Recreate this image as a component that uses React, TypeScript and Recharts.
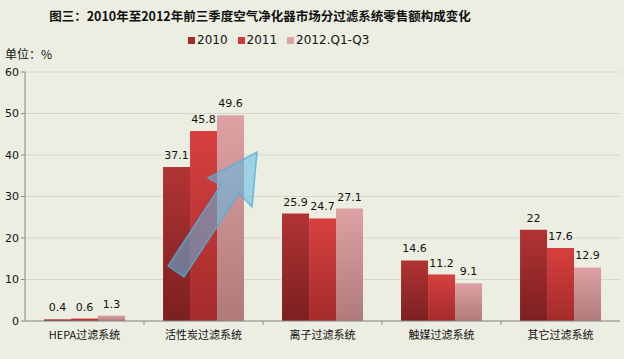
import React from 'react';
import { BarChart, Bar, XAxis, YAxis, CartesianGrid, LabelList } from 'recharts';

const categories = ['HEPA过滤系统', '活性炭过滤系统', '离子过滤系统', '触媒过滤系统', '其它过滤系统'];
const s2010 = [0.4, 37.1, 25.9, 14.6, 22];
const s2011 = [0.6, 45.8, 24.7, 11.2, 17.6];
const s2012 = [1.3, 49.6, 27.1, 9.1, 12.9];
const yTicks = [0, 10, 20, 30, 40, 50, 60];
const seriesNames = ['2010', '2011', '2012.Q1-Q3'];
const legendColors = ['#A52A2A', '#CC3B3B', '#D9A3A3'];

const data = categories.map((c, i) => ({ name: c, a: s2010[i], b: s2011[i], c: s2012[i] }));

const FONT = '"DejaVu Sans", "Noto Sans CJK SC", sans-serif';
const CJK = '"Noto Sans CJK SC", "DejaVu Sans", sans-serif';

const XTick = (props: any) => {
  const { x, y, payload, index } = props;
  const half = 119 / 2;
  return (
    <g>
      {index > 0 && <line x1={x - half} x2={x - half} y1={y - 8} y2={y - 4} stroke="#888" />}
      <text x={x} y={y + 10} textAnchor="middle" fontSize={11} fill="#111" fontFamily={CJK}>
        {payload.value}
      </text>
    </g>
  );
};

export default function App() {
  return (
    <div style={{ position: 'absolute', left: 0, top: 0, width: 624, height: 359, background: '#ECEEE1', overflow: 'hidden' }}>
      <div style={{ position: 'absolute', left: 0, width: 520, top: 6, textAlign: 'center', fontFamily: CJK, fontWeight: 'bold', fontSize: 12.5, color: '#111' }}>
        图三：2010年至2012年前三季度空气净化器市场分过滤系统零售额构成变化
      </div>
      <div style={{ position: 'absolute', left: 188, top: 33, display: 'flex', gap: 10, fontFamily: FONT, fontSize: 12, color: '#111', alignItems: 'center' }}>
        {seriesNames.map((n, i) => (
          <span key={n} style={{ display: 'flex', alignItems: 'center' }}>
            <span style={{ display: 'inline-block', width: 7, height: 7, background: legendColors[i], marginRight: 2 }} />
            {n}
          </span>
        ))}
      </div>
      <div style={{ position: 'absolute', left: 5, top: 45, fontFamily: CJK, fontSize: 12, color: '#111' }}>单位：%</div>
      <BarChart
        width={624}
        height={359}
        data={data}
        margin={{ top: 72, right: 4, bottom: 8, left: 0 }}
        barCategoryGap="16%"
        barGap={0}
      >
        <defs>
          <linearGradient id="g2010" x1="0" y1="0" x2="0" y2="1">
            <stop offset="0%" stopColor="#B23434" />
            <stop offset="100%" stopColor="#7C1F20" />
          </linearGradient>
          <linearGradient id="g2011" x1="0" y1="0" x2="0" y2="1">
            <stop offset="0%" stopColor="#D6403F" />
            <stop offset="100%" stopColor="#A42B2B" />
          </linearGradient>
          <linearGradient id="g2012" x1="0" y1="0" x2="0" y2="1">
            <stop offset="0%" stopColor="#DDA2A3" />
            <stop offset="100%" stopColor="#B07A7B" />
          </linearGradient>
        </defs>
        <CartesianGrid vertical={false} stroke="#D6D8CB" />
        <XAxis
          dataKey="name"
          height={30}
          axisLine={{ stroke: '#8A8A8A' }}
          tickLine={false}
          tick={<XTick />}
          interval={0}
        />
        <YAxis
          width={25}
          domain={[0, 60]}
          ticks={yTicks}
          axisLine={{ stroke: '#8A8A8A' }}
          tickLine={{ stroke: '#8A8A8A' }}
          tickSize={4}
          tick={{ fontSize: 11, fill: '#111', fontFamily: FONT }}
        />
        <Bar dataKey="a" name={seriesNames[0]} fill="url(#g2010)" isAnimationActive={false}>
          <LabelList dataKey="a" position="top" fontSize={11} fill="#111" fontFamily={FONT} offset={8} />
        </Bar>
        <Bar dataKey="b" name={seriesNames[1]} fill="url(#g2011)" isAnimationActive={false}>
          <LabelList dataKey="b" position="top" fontSize={11} fill="#111" fontFamily={FONT} offset={8} />
        </Bar>
        <Bar dataKey="c" name={seriesNames[2]} fill="url(#g2012)" isAnimationActive={false}>
          <LabelList dataKey="c" position="top" fontSize={11} fill="#111" fontFamily={FONT} offset={8} />
        </Bar>
      </BarChart>
      <svg width={624} height={359} style={{ position: 'absolute', left: 0, top: 0, pointerEvents: 'none' }}>
        <polygon
          points="168,266 184,277 239,193 252,207 257,152 208,178 221,185"
          fill="#5BBCE6"
          fillOpacity={0.55}
          stroke="#4FB0E0"
          strokeWidth={1.5}
          strokeOpacity={0.8}
        />
      </svg>
    </div>
  );
}
